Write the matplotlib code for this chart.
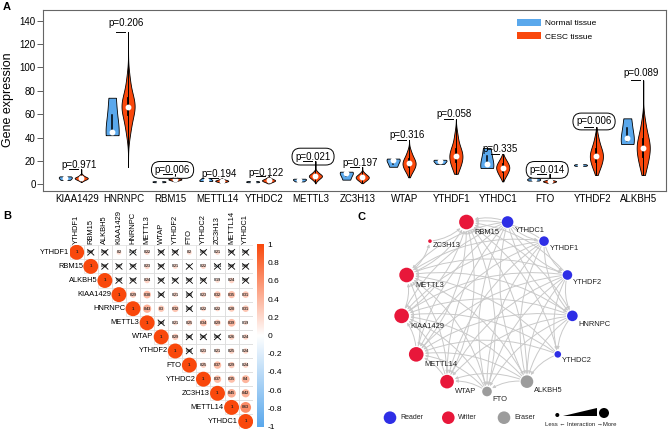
import numpy as np
import matplotlib
matplotlib.use("Agg")
import matplotlib.pyplot as plt
from matplotlib.patches import Circle, FancyArrowPatch, Polygon, Patch
from matplotlib.colors import LinearSegmentedColormap

plt.rcParams['font.family'] = ['Liberation Sans', 'DejaVu Sans']

# ---------------- data : panel A ----------------
genes = ["KIAA1429", "HNRNPC", "RBM15", "METTL14", "YTHDC2", "METTL3", "ZC3H13",
         "WTAP", "YTHDF1", "YTHDC1", "FTO", "YTHDF2", "ALKBH5"]
p_values = ["0.971", "0.206", "0.006", "0.194", "0.122", "0.021", "0.197",
            "0.316", "0.058", "0.335", "0.014", "0.006", "0.089"]
# normal tissue samples (3 per gene)
normal_vals = [
    [3.8, 5.6, 6.8], [42, 45, 74], [1.8, 2.3, 2.7], [2.8, 3.5, 5.5],
    [1.8, 2.3, 2.8], [2.5, 4.0, 4.8], [4.0, 9.5, 10.8], [15.0, 20.5, 22.0],
    [17.5, 20.0, 21.0], [14.0, 17.0, 31.0], [3.2, 4.2, 5.2], [15.8, 16.5, 17.2],
    [34.5, 39.3, 56.4]]
# tumour tissue: 5%,15%,...,95% quantiles
tumor_q = [
    [3.3, 4.0, 4.5, 4.9, 5.2, 5.5, 5.8, 6.2, 6.8, 8.0],
    [44, 52, 59, 63, 65, 67.5, 70.5, 73.5, 79, 90],
    [3.0, 3.5, 3.8, 4.1, 4.25, 4.4, 4.6, 4.9, 5.2, 5.8],
    [1.8, 2.2, 2.5, 2.75, 2.95, 3.1, 3.3, 3.55, 3.9, 4.4],
    [1.6, 2.2, 2.7, 3.0, 3.3, 3.5, 3.8, 4.2, 4.7, 5.5],
    [3.5, 4.8, 5.7, 6.4, 6.9, 7.3, 7.8, 8.4, 9.3, 10.8],
    [2.6, 3.7, 4.5, 5.2, 5.8, 6.2, 6.8, 7.5, 8.3, 9.8],
    [10, 12.5, 14.5, 16.2, 17.5, 18.5, 20, 21.8, 24, 28],
    [12.5, 16, 19, 21.5, 23.8, 25.3, 27.5, 30, 34, 42],
    [6.5, 8.8, 10.8, 12.4, 13.7, 14.7, 16, 17.5, 19.2, 22],
    [1.5, 1.8, 2.1, 2.35, 2.55, 2.7, 2.9, 3.1, 3.4, 3.9],
    [12.5, 16, 19, 21.5, 23.8, 25.3, 27.5, 30, 33.5, 40],
    [13, 18, 23, 27, 30, 32.5, 35.5, 39, 44, 53]]
tumor_min = [2.0, 15, 2.5, 1.2, 0.8, 0.8, 1.0, 6, 9, 2.5, 1.0, 8, 8]
tumor_max = [13, 130, 9, 5.5, 6.8, 20, 15, 38, 55.5, 26, 9, 49, 89]

# ---------------- data : panel B ----------------
corr_genes = ["YTHDF1", "RBM15", "ALKBH5", "KIAA1429", "HNRNPC", "METTL3", "WTAP",
              "YTHDF2", "FTO", "YTHDC2", "ZC3H13", "METTL14", "YTHDC1"]
# upper triangle rows, starting at the diagonal
corr_rows = [
    [1, 0.09, 0.08, 0.2, -0.11, 0.22, 0.08, 0.09, 0.2, 0.07, 0.21, 0.09, 0.08],
    [1, 0.08, 0.07, 0.05, 0.23, 0.09, 0.21, 0.0, 0.22, -0.11, 0.08, 0.09],
    [1, 0.08, 0.09, 0.24, 0.08, 0.07, 0.09, 0.08, 0.19, 0.24, 0.09],
    [1, 0.29, 0.38, 0.09, 0.21, 0.08, 0.23, 0.32, 0.35, 0.31],
    [1, 0.43, 0.3, 0.32, 0.08, 0.22, 0.22, 0.28, 0.31],
    [1, 0.09, 0.21, 0.25, 0.34, 0.29, 0.39, 0.19],
    [1, 0.29, 0.08, 0.05, 0.07, 0.26, 0.24],
    [1, 0.05, 0.23, 0.21, 0.25, 0.24],
    [1, 0.25, 0.37, 0.29, 0.24],
    [1, 0.37, 0.35, 0.4],
    [1, 0.45, 0.42],
    [1, 0.63],
    [1]]
# 1 = not significant (crossed)
insig_rows = [
    [0, 1, 1, 0, 1, 0, 1, 1, 0, 1, 0, 1, 1],
    [0, 1, 1, 1, 0, 1, 0, 1, 0, 1, 1, 1],
    [0, 1, 1, 0, 1, 1, 1, 1, 0, 0, 1],
    [0, 0, 0, 1, 0, 1, 0, 0, 0, 0],
    [0, 0, 0, 0, 1, 0, 0, 0, 0],
    [0, 1, 0, 0, 0, 0, 0, 0],
    [0, 0, 1, 1, 1, 0, 0],
    [0, 1, 0, 0, 0, 0],
    [0, 0, 0, 0, 0],
    [0, 0, 0, 0],
    [0, 0, 0],
    [0, 0],
    [0]]
cbar_ticks = [1, 0.8, 0.6, 0.4, 0.2, 0, -0.2, -0.4, -0.6, -0.8, -1]

# ---------------- data : panel C ----------------
net_nodes = ["YTHDC1", "YTHDF1", "YTHDF2", "HNRNPC", "YTHDC2", "ALKBH5", "FTO",
             "WTAP", "METTL14", "KIAA1429", "METTL3", "ZC3H13", "RBM15"]
net_roles = ["Reader", "Reader", "Reader", "Reader", "Reader", "Eraser", "Eraser",
             "Writer", "Writer", "Writer", "Writer", "Writer", "Writer"]
net_interaction = [8, 6, 6, 7, 3, 9, 6, 10, 11, 11, 11, 0, 11]
no_edge_pairs = [("YTHDC2", "YTHDC1"), ("YTHDC2", "YTHDF1"), ("YTHDC2", "FTO"),
                 ("YTHDC2", "WTAP")]
zc3h13_partners = ["RBM15", "METTL3"]

# ================= figure =================
W, H = 669, 432
fig = plt.figure(figsize=(W / 100, H / 100), dpi=100)

BLUE = '#5AA8EC'
ORANGE = '#F9480C'


def kde(samples, grid):
    s = np.asarray(samples, float)
    h = max(s.std(ddof=1) * len(s) ** (-0.2), 0.05)
    return np.exp(-0.5 * ((grid[:, None] - s[None, :]) / h) ** 2).sum(1)


def violin(ax, x, samples, lo, hi, color, hw=0.14):
    grid = np.linspace(lo, hi, 200)
    d = kde(samples, grid)
    d = d / d.max() * hw
    ax.fill_betweenx(grid, x - d, x + d, facecolor=color, edgecolor='black',
                     lw=0.6, zorder=2)


# ---------- Panel A ----------
axA = fig.add_axes([43.3 / W, 1 - 191 / H, (665.7 - 43.3) / W, 181 / H])
for i in range(len(genes)):
    nv = normal_vals[i]
    xb, xo = i - 0.17, i + 0.17
    violin(axA, xb, nv, min(nv), max(nv), BLUE)
    q1, q3 = np.percentile(nv, [25, 75])
    axA.plot([xb, xb], [q1, q3], color='black', lw=1.1, zorder=3)
    axA.plot([xb], [np.median(nv)], 'o', ms=3.2, color='white', zorder=4)

    tq = tumor_q[i]
    violin(axA, xo, tq, tumor_min[i], tumor_max[i], ORANGE)
    axA.plot([xo, xo], [tumor_min[i], tumor_max[i]], color='black', lw=0.7, zorder=3)
    axA.plot([xo, xo], [tq[2], tq[7]], color='black', lw=1.3, zorder=3)
    axA.plot([xo], [np.median(tq)], 'o', ms=3.2, color='white', zorder=4)

    mx = tumor_max[i]
    axA.plot([i - 0.09, i + 0.1], [mx, mx], color='black', lw=0.7, zorder=3)
    sig = float(p_values[i]) < 0.05
    ty = mx + 3.0 + 0.035 * mx
    kw = {}
    if sig:
        kw['bbox'] = dict(boxstyle='round,pad=0.35,rounding_size=0.85',
                          fc='none', ec='black', lw=0.7)
    axA.text(i + 0.12, ty, "p=" + p_values[i], fontsize=7, ha='center',
             va='center', zorder=5, **kw)

axA.set_xlim(-0.64, 12.65)
axA.set_ylim(-5.7, 149)
axA.set_xticks(np.arange(len(genes)) + 0.08)
axA.set_xticklabels(genes, fontsize=7)
axA.tick_params(axis='x', length=0, pad=2.5)
axA.set_yticks(np.arange(0, 141, 20))
axA.tick_params(axis='y', labelsize=7, length=4, width=0.6, pad=1.5, color='#444444')
axA.set_ylabel("Gene expression", fontsize=9)
axA.yaxis.set_label_coords((14.5 - 43.3) / 622.4, 0.503)
for s in axA.spines.values():
    s.set_color('#666666')
    s.set_linewidth(0.8)
handles = [Patch(facecolor=BLUE, edgecolor='none', label='Normal tissue'),
           Patch(facecolor=ORANGE, edgecolor='none', label='CESC tissue')]
axA.legend(handles=handles, loc='upper left', bbox_to_anchor=(0.761, 0.95),
           frameon=False, fontsize=6, handlelength=2.9, handleheight=0.85,
           handletextpad=0.5, labelspacing=0.62, borderpad=0, borderaxespad=0)

fig.text(6.7 / W, 1 - 6.7 / H, "A", fontsize=8, fontweight='bold', ha='center', va='center')
fig.text(7.3 / W, 1 - 215.7 / H, "B", fontsize=8, fontweight='bold', ha='center', va='center')
fig.text(361.7 / W, 1 - 216.7 / H, "C", fontsize=8, fontweight='bold', ha='center', va='center')

# ---------- Panel B ----------
cmap = LinearSegmentedColormap.from_list('corr', ['#5AA8EC', '#FFFFFF', '#F9480C'])
n = len(corr_genes)
gx0, gy0, cw, ch = 69.66, 245.25, 14.08, 14.1
axB = fig.add_axes([gx0 / W, 1 - (gy0 + n * ch) / H, n * cw / W, n * ch / H])
axB.set_xlim(-0.5, n - 0.5)
axB.set_ylim(n - 0.5, -0.5)
axB.axis('off')
for i in range(n):
    for k, v in enumerate(corr_rows[i]):
        j = i + k
        axB.add_patch(plt.Rectangle((j - 0.5, i - 0.5), 1, 1, fill=False,
                                    ec='#DDDDDD', lw=0.5, zorder=1))
        r = 0.53 * abs(v) ** 0.7
        axB.add_patch(Circle((j, i), r, fc=cmap((v + 1) / 2), ec='none', zorder=2))
        txt = f"{round(v, 2):g}"
        axB.text(j, i, txt, fontsize=2.6 if v != 1 else 3.2, ha='center',
                 va='center', color='#222222', zorder=3, fontweight='bold')
        if insig_rows[i][k]:
            axB.plot([j - 0.22, j + 0.22], [i - 0.2, i + 0.2], color='black', lw=0.6, zorder=4)
            axB.plot([j - 0.22, j + 0.22], [i + 0.2, i - 0.2], color='black', lw=0.6, zorder=4)
    axB.text(i - 0.55, i, corr_genes[i], fontsize=5.4, ha='right', va='center',
             clip_on=False)
    axB.text(i, -0.6, corr_genes[i], fontsize=5.4, ha='center', va='bottom',
             rotation=90, clip_on=False)

axCb = fig.add_axes([256.7 / W, 1 - 426.7 / H, 6.3 / W, 182.4 / H])
grad = np.linspace(-1, 1, 256)[:, None]
axCb.imshow(grad, aspect='auto', cmap=cmap, origin='lower', extent=[0, 1, -1, 1])
axCb.set_xticks([])
axCb.yaxis.tick_right()
axCb.set_yticks(cbar_ticks)
axCb.set_yticklabels([f"{t:g}" for t in cbar_ticks], fontsize=6)
axCb.tick_params(axis='y', length=0, pad=3)
for s in axCb.spines.values():
    s.set_visible(False)

# ---------- Panel C ----------
axC = fig.add_axes([300 / W, 0, 369 / W, 232 / H])
axC.set_xlim(300, 669)
axC.set_ylim(432, 200)
axC.axis('off')
cx, cy, R = 487, 305.5, 86
m = len(net_nodes)
ang = np.deg2rad(180 / m + np.arange(m) * 360 / m)
px = cx + R * np.sin(ang)
py = cy - R * np.cos(ang)
rad = [1.8 + 0.5 * c for c in net_interaction]
role_col = {'Reader': '#2E2EE6', 'Writer': '#E8173A', 'Eraser': '#9C9C9C'}

edges = []
for a in range(m):
    for b in range(a + 1, m):
        ga, gb = net_nodes[a], net_nodes[b]
        if "ZC3H13" in (ga, gb):
            other = gb if ga == "ZC3H13" else ga
            if other in zc3h13_partners:
                edges.append((a, b))
            continue
        if (ga, gb) in no_edge_pairs or (gb, ga) in no_edge_pairs:
            continue
        edges.append((a, b))

for a, b in edges:
    arr = FancyArrowPatch((px[a], py[a]), (px[b], py[b]),
                          connectionstyle='arc3,rad=0.2', arrowstyle='-|>',
                          mutation_scale=4, lw=0.7, color='#C9C9C9',
                          shrinkA=rad[a] * 0.72 + 1, shrinkB=rad[b] * 0.72 + 1,
                          zorder=1)
    axC.add_patch(arr)

for k in range(m):
    axC.add_patch(Circle((px[k], py[k]), rad[k], fc=role_col[net_roles[k]],
                         ec='none', zorder=3))
    axC.text(px[k] + rad[k] + 1, py[k] + rad[k] + 3, net_nodes[k], fontsize=5.4,
             ha='left', va='center', color='#222222', zorder=4)

for lx, role in zip([390, 448.3, 504], ["Reader", "Writer", "Eraser"]):
    axC.add_patch(Circle((lx, 417.7), 6.3, fc=role_col[role], ec='none'))
    axC.text(lx + 10, 417.7, role, fontsize=5, ha='left', va='center', color='#222222')
axC.add_patch(Circle((557.3, 415), 2, fc='black', ec='none'))
axC.add_patch(Polygon([(563, 416.5), (597, 416.5), (597, 408)], closed=True,
                      fc='black', ec='none'))
axC.add_patch(Circle((604, 413), 5, fc='black', ec='none'))
axC.text(581, 424.5, "Less \u2190 Interaction \u2192More", fontsize=4.3, ha='center',
         va='center', color='#222222')

fig.savefig("out.png", dpi=100)
